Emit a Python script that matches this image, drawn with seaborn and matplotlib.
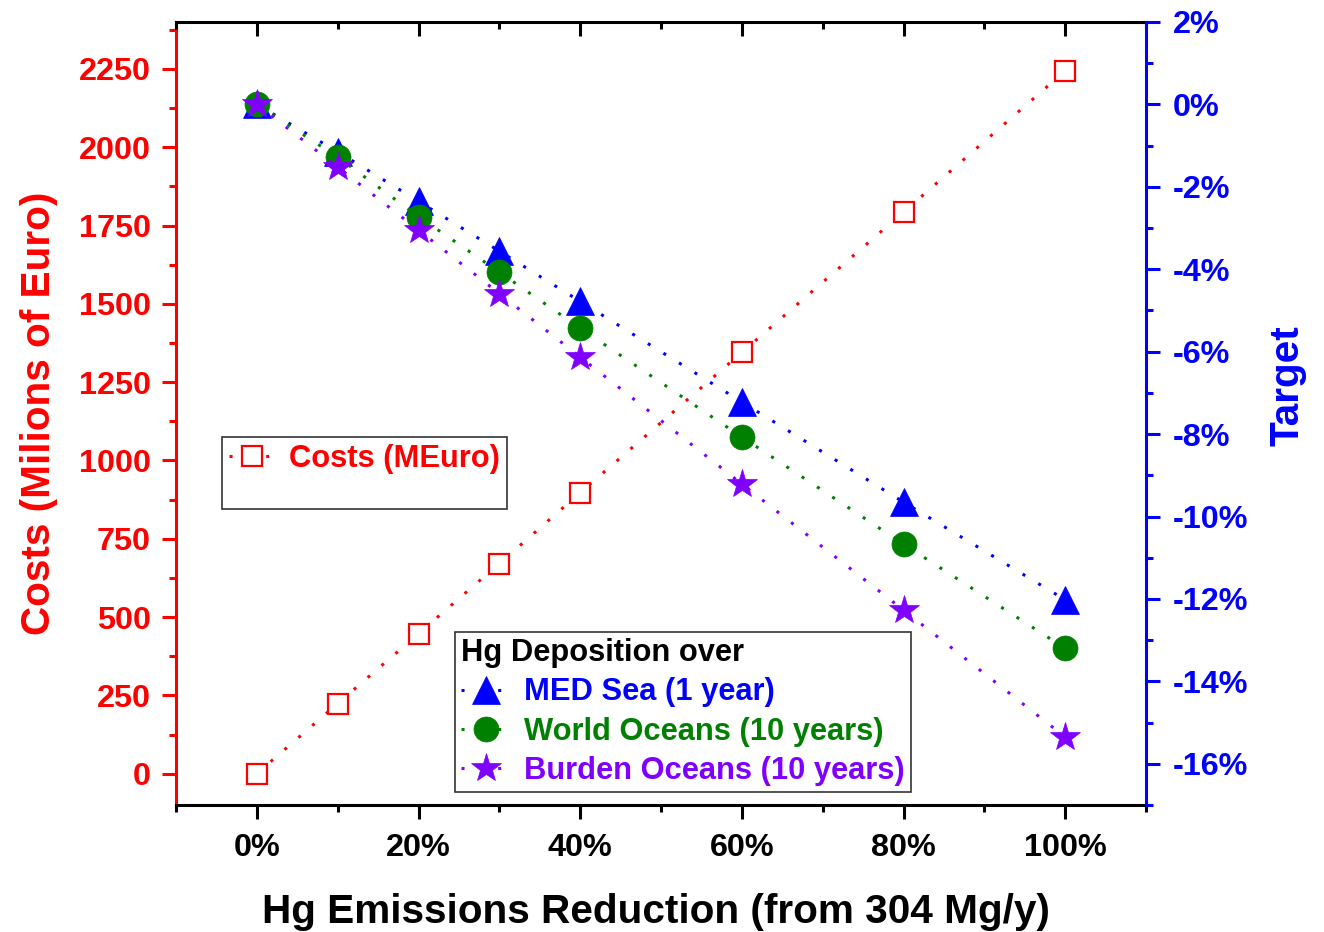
import matplotlib
matplotlib.use('Agg')
import matplotlib.pyplot as plt
import seaborn as sns
from matplotlib.ticker import MultipleLocator, FuncFormatter
from matplotlib.lines import Line2D

# ---- data ----
reduction = [0, 10, 20, 30, 40, 60, 80, 100]
costs = [0, 224, 447, 671, 897, 1345, 1793, 2244]
med_sea = [0.0, -1.15, -2.35, -3.56, -4.78, -7.22, -9.65, -12.02]
world_oceans = [0.0, -1.28, -2.72, -4.07, -5.43, -8.07, -10.67, -13.2]
burden_oceans = [0.0, -1.52, -3.05, -4.59, -6.13, -9.21, -12.27, -15.35]

x_ticks = [0, 20, 40, 60, 80, 100]
cost_ticks = [0, 250, 500, 750, 1000, 1250, 1500, 1750, 2000, 2250]
target_ticks = [-16, -14, -12, -10, -8, -6, -4, -2, 0, 2]

cost_label = 'Costs (MEuro)'
series_labels = ['MED Sea (1 year)', 'World Oceans (10 years)', 'Burden Oceans (10 years)']
legend_title = 'Hg Deposition over'

sns.set_theme(style='white')
plt.rcParams['font.family'] = ['Liberation Sans', 'DejaVu Sans']
plt.rcParams['font.weight'] = 'bold'

RED, BLUE, GREEN, PURPLE = '#FF0000', '#0000FF', '#008000', '#8000FF'
LW = 2.2
DOT = (0, (1, 5))
TICK_FS = 23.3
LEG_FS = 22.2
LAB_FS = 29.2

fig = plt.figure(figsize=(13.24, 9.32), dpi=100)
fig.patch.set_facecolor('white')
ax = fig.add_axes([176 / 1324, 1 - 805 / 932, 970 / 1324, 783 / 932])
ax2 = ax.twinx()

sns.lineplot(x=reduction, y=costs, ax=ax, color=RED, marker='s', markersize=15,
             markerfacecolor='white', markeredgecolor=RED, markeredgewidth=1.6,
             linestyle=DOT, linewidth=LW, label=cost_label, legend=False)

styles = [(med_sea, BLUE, '^', 20), (world_oceans, GREEN, 'o', 18), (burden_oceans, PURPLE, '*', 22)]
for (vals, col, mk, ms), lab in zip(styles, series_labels):
    sns.lineplot(x=reduction, y=vals, ax=ax2, color=col, marker=mk, markersize=ms,
                 markerfacecolor=col, markeredgecolor=col, markeredgewidth=0.5,
                 linestyle=DOT, linewidth=LW, label=lab, legend=False)

# ---- axes limits / ticks ----
ax.set_xlim(-10, 110)
ax.set_ylim(-100, 2400)
ax2.set_ylim(-17, 2)

ax.set_xticks(x_ticks)
ax.xaxis.set_minor_locator(MultipleLocator(10))
ax.xaxis.set_major_formatter(FuncFormatter(lambda v, p: f'{int(round(v))}%'))
ax.set_yticks(cost_ticks)
ax.yaxis.set_minor_locator(MultipleLocator(125))
ax2.set_yticks(target_ticks)
ax2.yaxis.set_minor_locator(MultipleLocator(1))
ax2.yaxis.set_major_formatter(FuncFormatter(lambda v, p: f'{int(round(v))}%'))

# spines
for s in ['left', 'right', 'top', 'bottom']:
    ax.spines[s].set_linewidth(LW)
    ax2.spines[s].set_linewidth(LW)
ax.spines['left'].set_color(RED)
ax.spines['right'].set_visible(False)
ax.spines['top'].set_color('black')
ax.spines['bottom'].set_color('black')
ax2.spines['left'].set_visible(False)
ax2.spines['bottom'].set_visible(False)
ax2.spines['top'].set_visible(False)
ax2.spines['right'].set_color(BLUE)

# ticks
ax.tick_params(axis='x', which='both', bottom=True, top=False, direction='out', color='black',
               width=LW, labelsize=TICK_FS, labelcolor='black', pad=10)
ax.tick_params(axis='x', which='major', length=10)
ax.tick_params(axis='x', which='minor', length=5)
ax.tick_params(axis='y', which='both', left=True, right=False, direction='out', color=RED,
               width=LW, labelsize=TICK_FS, labelcolor=RED, pad=8)
ax.tick_params(axis='y', which='major', length=10)
ax.tick_params(axis='y', which='minor', length=5)

ax2.xaxis.set_visible(True)
ax2.tick_params(axis='x', which='both', top=True, bottom=False, labeltop=False, labelbottom=False,
                direction='in', color='black', width=LW)
ax2.tick_params(axis='x', which='major', length=10)
ax2.tick_params(axis='x', which='minor', length=5)
ax2.tick_params(axis='y', which='both', right=True, left=False, direction='out', color=BLUE,
                width=LW, labelsize=TICK_FS, labelcolor=BLUE, pad=9)
ax2.tick_params(axis='y', which='major', length=10)
ax2.tick_params(axis='y', which='minor', length=5)
for t in ax.get_xticklabels() + ax.get_yticklabels() + ax2.get_yticklabels():
    t.set_fontweight('bold')

# labels
ax.set_xlabel('Hg Emissions Reduction (from 304 Mg/y)', fontsize=LAB_FS, fontweight='bold', color='black')
ax.xaxis.set_label_coords(0.4948, -0.112)
ax.set_ylabel('Costs (Milions of Euro)', fontsize=LAB_FS, fontweight='bold', color=RED)
ax.yaxis.set_label_coords(-0.122, 0.5)
ax2.set_ylabel('Target', fontsize=LAB_FS, fontweight='bold', color=BLUE)
ax2.yaxis.set_label_coords(1.126, 0.535)

ax.grid(False)
ax2.grid(False)

# legends
blank = Line2D([], [], linestyle='none', marker=None)
leg1 = ax.legend([ax.lines[0], blank], [cost_label, ' '], loc='upper left',
                 bbox_to_anchor=(222 / 1324, 1 - 437 / 932), bbox_transform=fig.transFigure,
                 borderaxespad=0, borderpad=0.22, handlelength=1.5, handletextpad=0.45,
                 labelspacing=0.15, fancybox=False, framealpha=1, edgecolor='#333333',
                 prop={'weight': 'bold', 'size': LEG_FS}, labelcolor=[RED, RED])
leg1.get_frame().set_linewidth(1.2)
leg1.get_texts()[1].set_fontsize(8)

leg2 = ax2.legend(ax2.lines[:3], series_labels, loc='upper left',
                  bbox_to_anchor=(455 / 1324, 1 - 632 / 932), bbox_transform=fig.transFigure,
                  borderaxespad=0, borderpad=0.2, handlelength=1.6, handletextpad=0.45,
                  labelspacing=0.3, fancybox=False, framealpha=1, edgecolor='#333333',
                  prop={'weight': 'bold', 'size': LEG_FS}, labelcolor='linecolor',
                  title=legend_title, title_fontproperties={'weight': 'bold', 'size': LEG_FS},
                  alignment='left')
leg2.get_frame().set_linewidth(1.2)
leg2.get_title().set_color('black')

fig.savefig('out.png', dpi=100, facecolor='white')
